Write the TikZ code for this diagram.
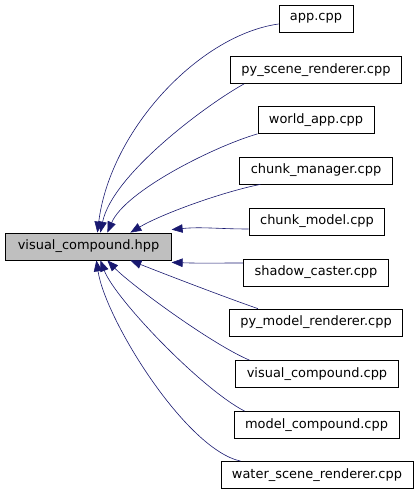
\documentclass[tikz,border=0pt]{standalone}
\usepackage{fontspec}
\setmainfont{DejaVu Sans}
\usetikzlibrary{arrows.meta}
\definecolor{midnight}{HTML}{191970}

\begin{document}
\begin{tikzpicture}[x=1bp,y=-1bp,font=\fontsize{13}{15}\selectfont,file/.style={draw=black, fill=white, line width=0.8bp, minimum height=27bp, inner xsep=11bp, inner ysep=0pt},top/.style={file, fill=black!25, inner xsep=12bp},dep/.style={draw=midnight, line width=0.6bp, -{Triangle[length=11bp,width=8.5bp]}}]
\useasboundingbox (0,0) rectangle (418,493);
\node[top] (hpp) at (88.5,246.5) {visual\_compound.hpp};
\node[file] (app) at (316,18.5) {app.cpp};\node[file] (pysr) at (316,70) {py\_scene\_renderer.cpp};\node[file] (wapp) at (316,120) {world\_app.cpp};
\node[file] (chmgr) at (316,170.5) {chunk\_manager.cpp};\node[file] (chmod) at (317,221.5) {chunk\_model.cpp};\node[file] (shcast) at (316,272.5) {shadow\_caster.cpp};
\node[file] (pymr) at (316,322.5) {py\_model\_renderer.cpp};\node[file] (vcc) at (317,374) {visual\_compound.cpp};\node[file] (mcc) at (316.5,425) {model\_compound.cpp};
\node[file] (wsr) at (317,475) {water\_scene\_renderer.cpp};
% includers above
\draw[dep] ([yshift=-5.5bp]app.west) .. controls +(-79,11) and +(13,-103) .. ([xshift=92bp]hpp.north west);
\draw[dep] ([xshift=14bp]pysr.south west) .. controls +(-38,21) and +(12,-58) .. ([xshift=95bp]hpp.north west);
\draw[dep] (wapp.south west) .. controls +(-42,12) and +(18,-42) .. ([xshift=102bp]hpp.north west);
\draw[dep] ([xshift=21bp]chmgr.south west) .. controls +(-40,8) and +(30,-18) .. ([xshift=125bp]hpp.north west);
% beside
\draw[dep] ([yshift=-7.5bp]chmod.west) .. controls +(-30,0) and +(30,-3) .. ([yshift=3bp]hpp.north east);
\draw[dep] ([yshift=9.5bp]shcast.west) .. controls +(-30,0) and +(30,1) .. ([yshift=-2bp]hpp.south east);
% includers below
\draw[dep] ([xshift=29bp]pymr.north west) .. controls +(-32,-11) and +(30,12) .. ([xshift=125bp]hpp.south west);
\draw[dep] ([xshift=14bp]vcc.north west) .. controls +(-38,-16) and +(23,24) .. ([xshift=102bp]hpp.south west);
\draw[dep] ([xshift=11bp]mcc.north west) .. controls +(-43,-22) and +(15,39) .. ([xshift=95bp]hpp.south west);
\draw[dep] ([xshift=20bp]wsr.north west) .. controls +(-55,-12) and +(9,59) .. ([xshift=91bp]hpp.south west);
\end{tikzpicture}
\end{document}
